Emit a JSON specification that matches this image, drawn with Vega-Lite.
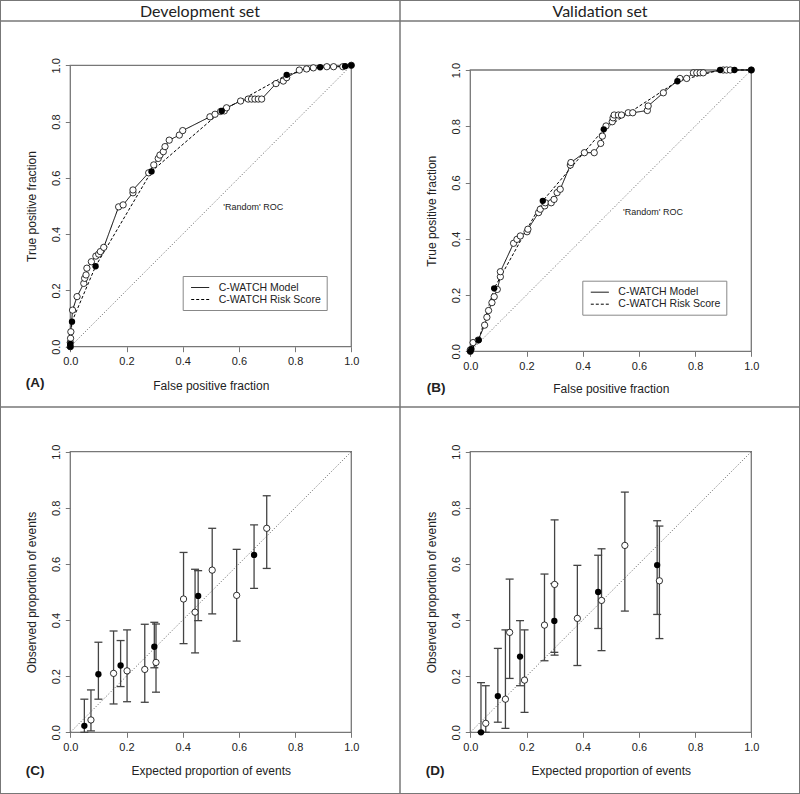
{
"$schema": "https://vega.github.io/schema/vega-lite/v6.json",
"width": 800, "height": 794, "padding": 0, "autosize": {"type": "none"},
"config": {
  "view": {"stroke": "#777", "strokeWidth": 2},
  "font": "Liberation Sans",
  "axis": {"labelFont": "Liberation Sans", "titleFont": "Liberation Sans", "labelColor": "#222", "titleColor": "#222", "tickColor": "#777", "tickWidth": 1, "domain": false, "grid": false, "labelFontSize": 11, "titleFontSize": 12, "titleFontWeight": "normal", "tickSize": 5, "labelPadding": 4, "labelOverlap": false, "labelFlush": false, "titleBaseline": "middle", "titleAlign": "center"},
  "axisY": {"labelAngle": 270, "labelAlign": "center", "labelBaseline": "bottom", "titleAngle": 270},
  "legend": {"orient": "none", "title": null, "strokeColor": "#888", "padding": 5, "fillColor": "white", "labelFont": "Liberation Sans", "labelFontSize": 10.5, "labelColor": "#222", "symbolType": "M-1.5,0H1.5", "symbolSize": 144, "symbolOffset": 6, "symbolStrokeWidth": 1, "symbolStrokeColor": "black", "symbolFillColor": "transparent", "rowPadding": 0, "labelOffset": 12}
},
"datasets": {
  "rocA": [
    {"fpr": 0, "tpr": 0, "curve": "C-WATCH Model"},
    {"fpr": 0, "tpr": 0.015, "curve": "C-WATCH Model"},
    {"fpr": 0.001, "tpr": 0.03, "curve": "C-WATCH Model"},
    {"fpr": 0.002, "tpr": 0.053, "curve": "C-WATCH Model"},
    {"fpr": 0.008, "tpr": 0.13, "curve": "C-WATCH Model"},
    {"fpr": 0.024, "tpr": 0.178, "curve": "C-WATCH Model"},
    {"fpr": 0.048, "tpr": 0.225, "curve": "C-WATCH Model"},
    {"fpr": 0.051, "tpr": 0.243, "curve": "C-WATCH Model"},
    {"fpr": 0.056, "tpr": 0.255, "curve": "C-WATCH Model"},
    {"fpr": 0.059, "tpr": 0.279, "curve": "C-WATCH Model"},
    {"fpr": 0.075, "tpr": 0.302, "curve": "C-WATCH Model"},
    {"fpr": 0.091, "tpr": 0.322, "curve": "C-WATCH Model"},
    {"fpr": 0.101, "tpr": 0.329, "curve": "C-WATCH Model"},
    {"fpr": 0.107, "tpr": 0.338, "curve": "C-WATCH Model"},
    {"fpr": 0.119, "tpr": 0.353, "curve": "C-WATCH Model"},
    {"fpr": 0.172, "tpr": 0.497, "curve": "C-WATCH Model"},
    {"fpr": 0.188, "tpr": 0.504, "curve": "C-WATCH Model"},
    {"fpr": 0.223, "tpr": 0.547, "curve": "C-WATCH Model"},
    {"fpr": 0.223, "tpr": 0.557, "curve": "C-WATCH Model"},
    {"fpr": 0.279, "tpr": 0.618, "curve": "C-WATCH Model"},
    {"fpr": 0.297, "tpr": 0.646, "curve": "C-WATCH Model"},
    {"fpr": 0.313, "tpr": 0.669, "curve": "C-WATCH Model"},
    {"fpr": 0.319, "tpr": 0.681, "curve": "C-WATCH Model"},
    {"fpr": 0.331, "tpr": 0.693, "curve": "C-WATCH Model"},
    {"fpr": 0.337, "tpr": 0.711, "curve": "C-WATCH Model"},
    {"fpr": 0.352, "tpr": 0.734, "curve": "C-WATCH Model"},
    {"fpr": 0.388, "tpr": 0.752, "curve": "C-WATCH Model"},
    {"fpr": 0.4, "tpr": 0.768, "curve": "C-WATCH Model"},
    {"fpr": 0.497, "tpr": 0.817, "curve": "C-WATCH Model"},
    {"fpr": 0.515, "tpr": 0.826, "curve": "C-WATCH Model"},
    {"fpr": 0.535, "tpr": 0.836, "curve": "C-WATCH Model"},
    {"fpr": 0.548, "tpr": 0.838, "curve": "C-WATCH Model"},
    {"fpr": 0.556, "tpr": 0.849, "curve": "C-WATCH Model"},
    {"fpr": 0.606, "tpr": 0.873, "curve": "C-WATCH Model"},
    {"fpr": 0.633, "tpr": 0.88, "curve": "C-WATCH Model"},
    {"fpr": 0.645, "tpr": 0.88, "curve": "C-WATCH Model"},
    {"fpr": 0.657, "tpr": 0.88, "curve": "C-WATCH Model"},
    {"fpr": 0.669, "tpr": 0.88, "curve": "C-WATCH Model"},
    {"fpr": 0.681, "tpr": 0.88, "curve": "C-WATCH Model"},
    {"fpr": 0.732, "tpr": 0.935, "curve": "C-WATCH Model"},
    {"fpr": 0.758, "tpr": 0.944, "curve": "C-WATCH Model"},
    {"fpr": 0.77, "tpr": 0.956, "curve": "C-WATCH Model"},
    {"fpr": 0.815, "tpr": 0.983, "curve": "C-WATCH Model"},
    {"fpr": 0.841, "tpr": 0.987, "curve": "C-WATCH Model"},
    {"fpr": 0.865, "tpr": 0.991, "curve": "C-WATCH Model"},
    {"fpr": 0.913, "tpr": 0.995, "curve": "C-WATCH Model"},
    {"fpr": 0.937, "tpr": 0.995, "curve": "C-WATCH Model"},
    {"fpr": 0.97, "tpr": 0.995, "curve": "C-WATCH Model"},
    {"fpr": 1, "tpr": 1, "curve": "C-WATCH Model"},
    {"fpr": 0, "tpr": 0, "curve": "C-WATCH Risk Score"},
    {"fpr": 0, "tpr": 0.01, "curve": "C-WATCH Risk Score"},
    {"fpr": 0.006, "tpr": 0.089, "curve": "C-WATCH Risk Score"},
    {"fpr": 0.09, "tpr": 0.286, "curve": "C-WATCH Risk Score"},
    {"fpr": 0.289, "tpr": 0.623, "curve": "C-WATCH Risk Score"},
    {"fpr": 0.539, "tpr": 0.838, "curve": "C-WATCH Risk Score"},
    {"fpr": 0.77, "tpr": 0.966, "curve": "C-WATCH Risk Score"},
    {"fpr": 0.889, "tpr": 0.993, "curve": "C-WATCH Risk Score"},
    {"fpr": 0.978, "tpr": 0.997, "curve": "C-WATCH Risk Score"},
    {"fpr": 1, "tpr": 1, "curve": "C-WATCH Risk Score"}
  ],
  "rocB": [
    {"fpr": 0, "tpr": 0, "curve": "C-WATCH Model"},
    {"fpr": 0, "tpr": 0.005, "curve": "C-WATCH Model"},
    {"fpr": 0.01, "tpr": 0.031, "curve": "C-WATCH Model"},
    {"fpr": 0.028, "tpr": 0.04, "curve": "C-WATCH Model"},
    {"fpr": 0.051, "tpr": 0.093, "curve": "C-WATCH Model"},
    {"fpr": 0.059, "tpr": 0.121, "curve": "C-WATCH Model"},
    {"fpr": 0.065, "tpr": 0.145, "curve": "C-WATCH Model"},
    {"fpr": 0.077, "tpr": 0.173, "curve": "C-WATCH Model"},
    {"fpr": 0.085, "tpr": 0.194, "curve": "C-WATCH Model"},
    {"fpr": 0.096, "tpr": 0.22, "curve": "C-WATCH Model"},
    {"fpr": 0.107, "tpr": 0.265, "curve": "C-WATCH Model"},
    {"fpr": 0.107, "tpr": 0.283, "curve": "C-WATCH Model"},
    {"fpr": 0.154, "tpr": 0.384, "curve": "C-WATCH Model"},
    {"fpr": 0.166, "tpr": 0.398, "curve": "C-WATCH Model"},
    {"fpr": 0.178, "tpr": 0.41, "curve": "C-WATCH Model"},
    {"fpr": 0.202, "tpr": 0.425, "curve": "C-WATCH Model"},
    {"fpr": 0.205, "tpr": 0.434, "curve": "C-WATCH Model"},
    {"fpr": 0.243, "tpr": 0.493, "curve": "C-WATCH Model"},
    {"fpr": 0.249, "tpr": 0.505, "curve": "C-WATCH Model"},
    {"fpr": 0.265, "tpr": 0.517, "curve": "C-WATCH Model"},
    {"fpr": 0.267, "tpr": 0.528, "curve": "C-WATCH Model"},
    {"fpr": 0.288, "tpr": 0.528, "curve": "C-WATCH Model"},
    {"fpr": 0.298, "tpr": 0.54, "curve": "C-WATCH Model"},
    {"fpr": 0.309, "tpr": 0.564, "curve": "C-WATCH Model"},
    {"fpr": 0.32, "tpr": 0.576, "curve": "C-WATCH Model"},
    {"fpr": 0.356, "tpr": 0.662, "curve": "C-WATCH Model"},
    {"fpr": 0.358, "tpr": 0.671, "curve": "C-WATCH Model"},
    {"fpr": 0.406, "tpr": 0.706, "curve": "C-WATCH Model"},
    {"fpr": 0.441, "tpr": 0.706, "curve": "C-WATCH Model"},
    {"fpr": 0.464, "tpr": 0.739, "curve": "C-WATCH Model"},
    {"fpr": 0.47, "tpr": 0.765, "curve": "C-WATCH Model"},
    {"fpr": 0.483, "tpr": 0.801, "curve": "C-WATCH Model"},
    {"fpr": 0.505, "tpr": 0.816, "curve": "C-WATCH Model"},
    {"fpr": 0.508, "tpr": 0.83, "curve": "C-WATCH Model"},
    {"fpr": 0.512, "tpr": 0.84, "curve": "C-WATCH Model"},
    {"fpr": 0.527, "tpr": 0.84, "curve": "C-WATCH Model"},
    {"fpr": 0.538, "tpr": 0.84, "curve": "C-WATCH Model"},
    {"fpr": 0.562, "tpr": 0.848, "curve": "C-WATCH Model"},
    {"fpr": 0.578, "tpr": 0.848, "curve": "C-WATCH Model"},
    {"fpr": 0.63, "tpr": 0.856, "curve": "C-WATCH Model"},
    {"fpr": 0.633, "tpr": 0.872, "curve": "C-WATCH Model"},
    {"fpr": 0.687, "tpr": 0.919, "curve": "C-WATCH Model"},
    {"fpr": 0.746, "tpr": 0.97, "curve": "C-WATCH Model"},
    {"fpr": 0.77, "tpr": 0.97, "curve": "C-WATCH Model"},
    {"fpr": 0.794, "tpr": 0.99, "curve": "C-WATCH Model"},
    {"fpr": 0.806, "tpr": 0.99, "curve": "C-WATCH Model"},
    {"fpr": 0.818, "tpr": 0.99, "curve": "C-WATCH Model"},
    {"fpr": 0.829, "tpr": 0.99, "curve": "C-WATCH Model"},
    {"fpr": 0.9, "tpr": 1, "curve": "C-WATCH Model"},
    {"fpr": 0.912, "tpr": 1, "curve": "C-WATCH Model"},
    {"fpr": 0.925, "tpr": 1, "curve": "C-WATCH Model"},
    {"fpr": 1, "tpr": 1, "curve": "C-WATCH Model"},
    {"fpr": 0, "tpr": 0, "curve": "C-WATCH Risk Score"},
    {"fpr": 0.004, "tpr": 0.008, "curve": "C-WATCH Risk Score"},
    {"fpr": 0.03, "tpr": 0.04, "curve": "C-WATCH Risk Score"},
    {"fpr": 0.085, "tpr": 0.224, "curve": "C-WATCH Risk Score"},
    {"fpr": 0.258, "tpr": 0.535, "curve": "C-WATCH Risk Score"},
    {"fpr": 0.475, "tpr": 0.789, "curve": "C-WATCH Risk Score"},
    {"fpr": 0.737, "tpr": 0.96, "curve": "C-WATCH Risk Score"},
    {"fpr": 0.889, "tpr": 1, "curve": "C-WATCH Risk Score"},
    {"fpr": 0.94, "tpr": 1, "curve": "C-WATCH Risk Score"},
    {"fpr": 1, "tpr": 1, "curve": "C-WATCH Risk Score"}
  ],
  "calC": [
    {"expected": 0.05, "observed": 0.023, "lower": 0, "upper": 0.118, "curve": "Score"},
    {"expected": 0.1, "observed": 0.207, "lower": 0.118, "upper": 0.321, "curve": "Score"},
    {"expected": 0.179, "observed": 0.238, "lower": 0.163, "upper": 0.327, "curve": "Score"},
    {"expected": 0.299, "observed": 0.305, "lower": 0.23, "upper": 0.392, "curve": "Score"},
    {"expected": 0.455, "observed": 0.486, "lower": 0.398, "upper": 0.576, "curve": "Score"},
    {"expected": 0.654, "observed": 0.632, "lower": 0.513, "upper": 0.739, "curve": "Score"},
    {"expected": 0.0735, "observed": 0.044, "lower": 0.005, "upper": 0.151, "curve": "Model"},
    {"expected": 0.154, "observed": 0.21, "lower": 0.101, "upper": 0.361, "curve": "Model"},
    {"expected": 0.202, "observed": 0.219, "lower": 0.109, "upper": 0.365, "curve": "Model"},
    {"expected": 0.265, "observed": 0.224, "lower": 0.107, "upper": 0.385, "curve": "Model"},
    {"expected": 0.305, "observed": 0.249, "lower": 0.143, "upper": 0.386, "curve": "Model"},
    {"expected": 0.403, "observed": 0.475, "lower": 0.316, "upper": 0.641, "curve": "Model"},
    {"expected": 0.444, "observed": 0.428, "lower": 0.283, "upper": 0.581, "curve": "Model"},
    {"expected": 0.505, "observed": 0.578, "lower": 0.422, "upper": 0.727, "curve": "Model"},
    {"expected": 0.592, "observed": 0.488, "lower": 0.325, "upper": 0.652, "curve": "Model"},
    {"expected": 0.699, "observed": 0.727, "lower": 0.584, "upper": 0.843, "curve": "Model"}
  ],
  "calD": [
    {"expected": 0.038, "observed": 0, "lower": 0, "upper": 0.177, "curve": "Score"},
    {"expected": 0.098, "observed": 0.129, "lower": 0.036, "upper": 0.299, "curve": "Score"},
    {"expected": 0.177, "observed": 0.27, "lower": 0.166, "upper": 0.398, "curve": "Score"},
    {"expected": 0.299, "observed": 0.397, "lower": 0.285, "upper": 0.53, "curve": "Score"},
    {"expected": 0.455, "observed": 0.5, "lower": 0.37, "upper": 0.631, "curve": "Score"},
    {"expected": 0.665, "observed": 0.596, "lower": 0.42, "upper": 0.754, "curve": "Score"},
    {"expected": 0.055, "observed": 0.032, "lower": 0, "upper": 0.166, "curve": "Model"},
    {"expected": 0.125, "observed": 0.118, "lower": 0.014, "upper": 0.365, "curve": "Model"},
    {"expected": 0.14, "observed": 0.356, "lower": 0.192, "upper": 0.546, "curve": "Model"},
    {"expected": 0.193, "observed": 0.186, "lower": 0.071, "upper": 0.365, "curve": "Model"},
    {"expected": 0.264, "observed": 0.382, "lower": 0.255, "upper": 0.564, "curve": "Model"},
    {"expected": 0.3, "observed": 0.527, "lower": 0.275, "upper": 0.757, "curve": "Model"},
    {"expected": 0.381, "observed": 0.406, "lower": 0.238, "upper": 0.595, "curve": "Model"},
    {"expected": 0.467, "observed": 0.47, "lower": 0.291, "upper": 0.654, "curve": "Model"},
    {"expected": 0.55, "observed": 0.666, "lower": 0.432, "upper": 0.856, "curve": "Model"},
    {"expected": 0.673, "observed": 0.54, "lower": 0.334, "upper": 0.735, "curve": "Model"}
  ]
},
"layer": [
  {
    "layer": [
      {"data": {"values": [{}]}, "mark": {"type": "rect", "fill": "white", "fillOpacity": 0, "stroke": "#777", "strokeWidth": 1.3},
       "encoding": {
         "x": {"datum": 0, "type": "quantitative", "scale": {"domain": [-0.25018, 2.5968], "nice": false, "zero": false}, "axis": {"orient": "bottom", "offset": -447.3, "values": [0, 0.2, 0.4, 0.6, 0.8, 1], "format": ".1f", "title": "False positive fraction", "titleX": 210.8, "titleY": 38.3}},
         "x2": {"datum": 1},
         "y": {"datum": 0, "type": "quantitative", "scale": {"domain": [-1.58955, 1.23205], "nice": false, "zero": false}, "axis": {"orient": "left", "offset": -70.3, "values": [0, 0.2, 0.4, 0.6, 0.8, 1], "format": ".1f", "title": "True positive fraction", "titleX": -38.6, "titleY": 206}},
         "y2": {"datum": 1}}},
      {"data": {"values": [{}]}, "mark": {"type": "rule", "color": "#333", "strokeWidth": 0.8, "strokeDash": [1, 2]},
       "encoding": {
         "x": {"datum": 0, "type": "quantitative", "scale": {"domain": [-0.25018, 2.5968], "nice": false, "zero": false}},
         "x2": {"datum": 1},
         "y": {"datum": 0, "type": "quantitative", "scale": {"domain": [-1.58955, 1.23205], "nice": false, "zero": false}},
         "y2": {"datum": 1}}},
      {"data": {"name": "rocA"}, "mark": {"type": "line", "color": "black", "strokeWidth": 1},
       "encoding": {
         "x": {"field": "fpr", "type": "quantitative", "scale": {"domain": [-0.25018, 2.5968], "nice": false, "zero": false}},
         "y": {"field": "tpr", "type": "quantitative", "scale": {"domain": [-1.58955, 1.23205], "nice": false, "zero": false}},
         "strokeDash": {"field": "curve", "type": "nominal", "scale": {"domain": ["C-WATCH Model", "C-WATCH Risk Score"], "range": [[1, 0], [3, 2]]}, "legend": {"legendX": 182.7, "legendY": 276}},
         "order": {"value": null}}},
      {"data": {"name": "rocA"}, "transform": [{"filter": "datum.curve === 'C-WATCH Model'"}],
       "mark": {"type": "point", "shape": "circle", "filled": true, "fill": "white", "stroke": "black", "strokeWidth": 0.8, "size": 40, "opacity": 1},
       "encoding": {
         "x": {"field": "fpr", "type": "quantitative", "scale": {"domain": [-0.25018, 2.5968], "nice": false, "zero": false}},
         "y": {"field": "tpr", "type": "quantitative", "scale": {"domain": [-1.58955, 1.23205], "nice": false, "zero": false}}}},
      {"data": {"name": "rocA"}, "transform": [{"filter": "datum.curve === 'C-WATCH Risk Score'"}],
       "mark": {"type": "point", "shape": "circle", "filled": true, "color": "black", "size": 40, "opacity": 1},
       "encoding": {
         "x": {"field": "fpr", "type": "quantitative", "scale": {"domain": [-0.25018, 2.5968], "nice": false, "zero": false}},
         "y": {"field": "tpr", "type": "quantitative", "scale": {"domain": [-1.58955, 1.23205], "nice": false, "zero": false}}}},
      {"data": {"values": [{}]}, "mark": {"type": "text", "text": "'Random' ROC", "fontSize": 9, "color": "#222"},
       "encoding": {
         "x": {"datum": 0.651, "type": "quantitative", "scale": {"domain": [-0.25018, 2.5968], "nice": false, "zero": false}},
         "y": {"datum": 0.4975, "type": "quantitative", "scale": {"domain": [-1.58955, 1.23205], "nice": false, "zero": false}}}},
      {"data": {"values": [{}]}, "mark": {"type": "text", "text": "Development set", "font": "Lato", "fontSize": 16, "color": "#222"},
       "encoding": {
         "x": {"datum": 0.4616, "type": "quantitative", "scale": {"domain": [-0.25018, 2.5968], "nice": false, "zero": false}},
         "y": {"datum": 1.191, "type": "quantitative", "scale": {"domain": [-1.58955, 1.23205], "nice": false, "zero": false}}}},
      {"data": {"values": [{}]}, "mark": {"type": "text", "text": "(A)", "fontSize": 13.5, "fontWeight": "bold", "color": "#222"},
       "encoding": {
         "x": {"datum": -0.1256, "type": "quantitative", "scale": {"domain": [-0.25018, 2.5968], "nice": false, "zero": false}},
         "y": {"datum": -0.129, "type": "quantitative", "scale": {"domain": [-1.58955, 1.23205], "nice": false, "zero": false}}}},
      {"data": {"values": [{}]}, "mark": {"type": "rule", "color": "#777", "strokeWidth": 1.5},
       "encoding": {
         "x": {"datum": 1.17331, "type": "quantitative", "scale": {"domain": [-0.25018, 2.5968], "nice": false, "zero": false}}}},
      {"data": {"values": [{"line": 1.15743}, {"line": -0.21429}]}, "mark": {"type": "rule", "color": "#777", "strokeWidth": 1.5},
       "encoding": {
         "y": {"field": "line", "type": "quantitative", "scale": {"domain": [-1.58955, 1.23205], "nice": false, "zero": false}}}}
    ]
  },
  {
    "layer": [
      {"data": {"values": [{}]}, "mark": {"type": "rect", "fill": "white", "fillOpacity": 0, "stroke": "#777", "strokeWidth": 1.3},
       "encoding": {
         "x": {"datum": 0, "type": "quantitative", "scale": {"domain": [-1.67367, 1.17331], "nice": false, "zero": false}, "axis": {"orient": "bottom", "offset": -442.7, "values": [0, 0.2, 0.4, 0.6, 0.8, 1], "format": ".1f", "title": "False positive fraction", "titleX": 610.8, "titleY": 37}},
         "x2": {"datum": 1},
         "y": {"datum": 0, "type": "quantitative", "scale": {"domain": [-1.57376, 1.24884], "nice": false, "zero": false}, "axis": {"orient": "left", "offset": -470.3, "values": [0, 0.2, 0.4, 0.6, 0.8, 1], "format": ".1f", "title": "True positive fraction", "titleX": -38.6, "titleY": 210.7}},
         "y2": {"datum": 1}}},
      {"data": {"values": [{}]}, "mark": {"type": "rule", "color": "#333", "strokeWidth": 0.8, "strokeDash": [1, 2]},
       "encoding": {
         "x": {"datum": 0, "type": "quantitative", "scale": {"domain": [-1.67367, 1.17331], "nice": false, "zero": false}},
         "x2": {"datum": 1},
         "y": {"datum": 0, "type": "quantitative", "scale": {"domain": [-1.57376, 1.24884], "nice": false, "zero": false}},
         "y2": {"datum": 1}}},
      {"data": {"name": "rocB"}, "mark": {"type": "line", "color": "black", "strokeWidth": 1},
       "encoding": {
         "x": {"field": "fpr", "type": "quantitative", "scale": {"domain": [-1.67367, 1.17331], "nice": false, "zero": false}},
         "y": {"field": "tpr", "type": "quantitative", "scale": {"domain": [-1.57376, 1.24884], "nice": false, "zero": false}},
         "strokeDash": {"field": "curve", "type": "nominal", "scale": {"domain": ["C-WATCH Model", "C-WATCH Risk Score"], "range": [[1, 0], [3, 2]]}, "legend": {"legendX": 582.3, "legendY": 280.7}},
         "order": {"value": null}}},
      {"data": {"name": "rocB"}, "transform": [{"filter": "datum.curve === 'C-WATCH Model'"}],
       "mark": {"type": "point", "shape": "circle", "filled": true, "fill": "white", "stroke": "black", "strokeWidth": 0.8, "size": 40, "opacity": 1},
       "encoding": {
         "x": {"field": "fpr", "type": "quantitative", "scale": {"domain": [-1.67367, 1.17331], "nice": false, "zero": false}},
         "y": {"field": "tpr", "type": "quantitative", "scale": {"domain": [-1.57376, 1.24884], "nice": false, "zero": false}}}},
      {"data": {"name": "rocB"}, "transform": [{"filter": "datum.curve === 'C-WATCH Risk Score'"}],
       "mark": {"type": "point", "shape": "circle", "filled": true, "color": "black", "size": 40, "opacity": 1},
       "encoding": {
         "x": {"field": "fpr", "type": "quantitative", "scale": {"domain": [-1.67367, 1.17331], "nice": false, "zero": false}},
         "y": {"field": "tpr", "type": "quantitative", "scale": {"domain": [-1.57376, 1.24884], "nice": false, "zero": false}}}},
      {"data": {"values": [{}]}, "mark": {"type": "text", "text": "'Random' ROC", "fontSize": 9, "color": "#222"},
       "encoding": {
         "x": {"datum": 0.65, "type": "quantitative", "scale": {"domain": [-1.67367, 1.17331], "nice": false, "zero": false}},
         "y": {"datum": 0.496, "type": "quantitative", "scale": {"domain": [-1.57376, 1.24884], "nice": false, "zero": false}}}},
      {"data": {"values": [{}]}, "mark": {"type": "text", "text": "Validation set", "font": "Lato", "fontSize": 16, "color": "#222"},
       "encoding": {
         "x": {"datum": 0.4616, "type": "quantitative", "scale": {"domain": [-1.67367, 1.17331], "nice": false, "zero": false}},
         "y": {"datum": 1.2079, "type": "quantitative", "scale": {"domain": [-1.57376, 1.24884], "nice": false, "zero": false}}}},
      {"data": {"values": [{}]}, "mark": {"type": "text", "text": "(B)", "fontSize": 13.5, "fontWeight": "bold", "color": "#222"},
       "encoding": {
         "x": {"datum": -0.122, "type": "quantitative", "scale": {"domain": [-1.67367, 1.17331], "nice": false, "zero": false}},
         "y": {"datum": -0.1305, "type": "quantitative", "scale": {"domain": [-1.57376, 1.24884], "nice": false, "zero": false}}}}
    ]
  },
  {
    "layer": [
      {"data": {"values": [{}]}, "mark": {"type": "rect", "fill": "white", "fillOpacity": 0, "stroke": "#777", "strokeWidth": 1.3},
       "encoding": {
         "x": {"datum": 0, "type": "quantitative", "scale": {"domain": [-0.25018, 2.5968], "nice": false, "zero": false}, "axis": {"orient": "bottom", "offset": -61.7, "values": [0, 0.2, 0.4, 0.6, 0.8, 1], "format": ".1f", "title": "Expected proportion of events", "titleX": 210.8, "titleY": 37.7}},
         "x2": {"datum": 1},
         "y": {"datum": 0, "type": "quantitative", "scale": {"domain": [-0.21988, 2.60977], "nice": false, "zero": false}, "axis": {"orient": "left", "offset": -70.3, "values": [0, 0.2, 0.4, 0.6, 0.8, 1], "format": ".1f", "title": "Observed proportion of events", "titleX": -38.6, "titleY": 592}},
         "y2": {"datum": 1}}},
      {"data": {"values": [{}]}, "mark": {"type": "rule", "color": "#333", "strokeWidth": 0.8, "strokeDash": [1, 2]},
       "encoding": {
         "x": {"datum": 0, "type": "quantitative", "scale": {"domain": [-0.25018, 2.5968], "nice": false, "zero": false}},
         "x2": {"datum": 1},
         "y": {"datum": 0, "type": "quantitative", "scale": {"domain": [-0.21988, 2.60977], "nice": false, "zero": false}},
         "y2": {"datum": 1}}},
      {"data": {"name": "calC"}, "mark": {"type": "rule", "color": "#444", "strokeWidth": 1.3},
       "encoding": {
         "x": {"field": "expected", "type": "quantitative", "scale": {"domain": [-0.25018, 2.5968], "nice": false, "zero": false}},
         "y": {"field": "lower", "type": "quantitative", "scale": {"domain": [-0.21988, 2.60977], "nice": false, "zero": false}},
         "y2": {"field": "upper"}}},
      {"data": {"name": "calC"}, "mark": {"type": "tick", "orient": "horizontal", "size": 8, "thickness": 1.3, "color": "#444", "opacity": 1},
       "encoding": {
         "x": {"field": "expected", "type": "quantitative", "scale": {"domain": [-0.25018, 2.5968], "nice": false, "zero": false}},
         "y": {"field": "upper", "type": "quantitative", "scale": {"domain": [-0.21988, 2.60977], "nice": false, "zero": false}}}},
      {"data": {"name": "calC"}, "mark": {"type": "tick", "orient": "horizontal", "size": 8, "thickness": 1.3, "color": "#444", "opacity": 1},
       "encoding": {
         "x": {"field": "expected", "type": "quantitative", "scale": {"domain": [-0.25018, 2.5968], "nice": false, "zero": false}},
         "y": {"field": "lower", "type": "quantitative", "scale": {"domain": [-0.21988, 2.60977], "nice": false, "zero": false}}}},
      {"data": {"name": "calC"}, "transform": [{"filter": "datum.curve === 'Model'"}],
       "mark": {"type": "point", "shape": "circle", "filled": true, "fill": "white", "stroke": "black", "strokeWidth": 0.8, "size": 40, "opacity": 1},
       "encoding": {
         "x": {"field": "expected", "type": "quantitative", "scale": {"domain": [-0.25018, 2.5968], "nice": false, "zero": false}},
         "y": {"field": "observed", "type": "quantitative", "scale": {"domain": [-0.21988, 2.60977], "nice": false, "zero": false}}}},
      {"data": {"name": "calC"}, "transform": [{"filter": "datum.curve === 'Score'"}],
       "mark": {"type": "point", "shape": "circle", "filled": true, "color": "black", "size": 40, "opacity": 1},
       "encoding": {
         "x": {"field": "expected", "type": "quantitative", "scale": {"domain": [-0.25018, 2.5968], "nice": false, "zero": false}},
         "y": {"field": "observed", "type": "quantitative", "scale": {"domain": [-0.21988, 2.60977], "nice": false, "zero": false}}}},
      {"data": {"values": [{}]}, "mark": {"type": "text", "text": "(C)", "fontSize": 13.5, "fontWeight": "bold", "color": "#222"},
       "encoding": {
         "x": {"datum": -0.1256, "type": "quantitative", "scale": {"domain": [-0.25018, 2.5968], "nice": false, "zero": false}},
         "y": {"datum": -0.1379, "type": "quantitative", "scale": {"domain": [-0.21988, 2.60977], "nice": false, "zero": false}}}}
    ]
  },
  {
    "layer": [
      {"data": {"values": [{}]}, "mark": {"type": "rect", "fill": "white", "fillOpacity": 0, "stroke": "#777", "strokeWidth": 1.3},
       "encoding": {
         "x": {"datum": 0, "type": "quantitative", "scale": {"domain": [-1.67367, 1.17331], "nice": false, "zero": false}, "axis": {"orient": "bottom", "offset": -61.7, "values": [0, 0.2, 0.4, 0.6, 0.8, 1], "format": ".1f", "title": "Expected proportion of events", "titleX": 610.8, "titleY": 37.7}},
         "x2": {"datum": 1},
         "y": {"datum": 0, "type": "quantitative", "scale": {"domain": [-0.21988, 2.60977], "nice": false, "zero": false}, "axis": {"orient": "left", "offset": -470.3, "values": [0, 0.2, 0.4, 0.6, 0.8, 1], "format": ".1f", "title": "Observed proportion of events", "titleX": -38.6, "titleY": 592}},
         "y2": {"datum": 1}}},
      {"data": {"values": [{}]}, "mark": {"type": "rule", "color": "#333", "strokeWidth": 0.8, "strokeDash": [1, 2]},
       "encoding": {
         "x": {"datum": 0, "type": "quantitative", "scale": {"domain": [-1.67367, 1.17331], "nice": false, "zero": false}},
         "x2": {"datum": 1},
         "y": {"datum": 0, "type": "quantitative", "scale": {"domain": [-0.21988, 2.60977], "nice": false, "zero": false}},
         "y2": {"datum": 1}}},
      {"data": {"name": "calD"}, "mark": {"type": "rule", "color": "#444", "strokeWidth": 1.3},
       "encoding": {
         "x": {"field": "expected", "type": "quantitative", "scale": {"domain": [-1.67367, 1.17331], "nice": false, "zero": false}},
         "y": {"field": "lower", "type": "quantitative", "scale": {"domain": [-0.21988, 2.60977], "nice": false, "zero": false}},
         "y2": {"field": "upper"}}},
      {"data": {"name": "calD"}, "mark": {"type": "tick", "orient": "horizontal", "size": 8, "thickness": 1.3, "color": "#444", "opacity": 1},
       "encoding": {
         "x": {"field": "expected", "type": "quantitative", "scale": {"domain": [-1.67367, 1.17331], "nice": false, "zero": false}},
         "y": {"field": "upper", "type": "quantitative", "scale": {"domain": [-0.21988, 2.60977], "nice": false, "zero": false}}}},
      {"data": {"name": "calD"}, "mark": {"type": "tick", "orient": "horizontal", "size": 8, "thickness": 1.3, "color": "#444", "opacity": 1},
       "encoding": {
         "x": {"field": "expected", "type": "quantitative", "scale": {"domain": [-1.67367, 1.17331], "nice": false, "zero": false}},
         "y": {"field": "lower", "type": "quantitative", "scale": {"domain": [-0.21988, 2.60977], "nice": false, "zero": false}}}},
      {"data": {"name": "calD"}, "transform": [{"filter": "datum.curve === 'Model'"}],
       "mark": {"type": "point", "shape": "circle", "filled": true, "fill": "white", "stroke": "black", "strokeWidth": 0.8, "size": 40, "opacity": 1},
       "encoding": {
         "x": {"field": "expected", "type": "quantitative", "scale": {"domain": [-1.67367, 1.17331], "nice": false, "zero": false}},
         "y": {"field": "observed", "type": "quantitative", "scale": {"domain": [-0.21988, 2.60977], "nice": false, "zero": false}}}},
      {"data": {"name": "calD"}, "transform": [{"filter": "datum.curve === 'Score'"}],
       "mark": {"type": "point", "shape": "circle", "filled": true, "color": "black", "size": 40, "opacity": 1},
       "encoding": {
         "x": {"field": "expected", "type": "quantitative", "scale": {"domain": [-1.67367, 1.17331], "nice": false, "zero": false}},
         "y": {"field": "observed", "type": "quantitative", "scale": {"domain": [-0.21988, 2.60977], "nice": false, "zero": false}}}},
      {"data": {"values": [{}]}, "mark": {"type": "text", "text": "(D)", "fontSize": 13.5, "fontWeight": "bold", "color": "#222"},
       "encoding": {
         "x": {"datum": -0.1256, "type": "quantitative", "scale": {"domain": [-1.67367, 1.17331], "nice": false, "zero": false}},
         "y": {"datum": -0.1379, "type": "quantitative", "scale": {"domain": [-0.21988, 2.60977], "nice": false, "zero": false}}}}
    ]
  }
],
"resolve": {"scale": {"x": "independent", "y": "independent", "strokeDash": "independent"}, "axis": {"x": "independent", "y": "independent"}, "legend": {"strokeDash": "independent"}}
}
